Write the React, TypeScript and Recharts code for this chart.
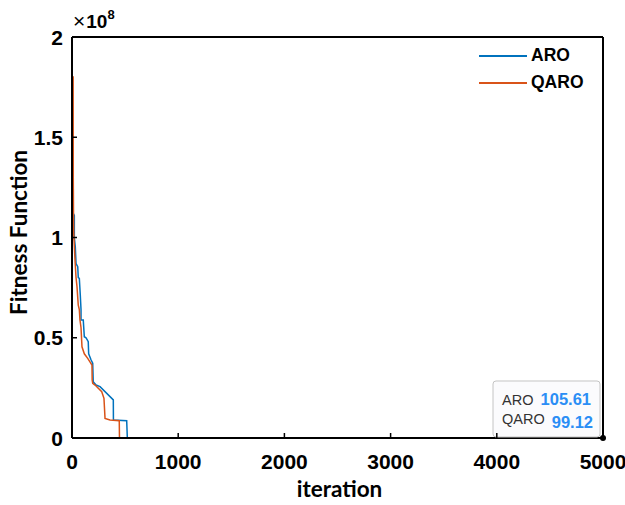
import React from "react";
import { LineChart, Line, XAxis, YAxis, Legend, ReferenceDot } from "recharts";

const ITER_TICKS = [0, 1000, 2000, 3000, 4000, 5000];
const FIT_TICKS = [0, 0.5e8, 1e8, 1.5e8, 2e8];

const SERIES = ["ARO", "QARO"];
const COLORS = ["#0072BD", "#D95319"];

// breakpoints of the convergence curves
const ARO_ITER = [
  0, 12, 12, 22, 22, 31, 38, 54, 59, 69, 78, 85, 85, 106, 116, 132, 153, 157,
  179, 195, 200, 226, 264, 389, 390, 515, 521, 5000,
];
const ARO_FIT = [
  1.25e8, 1.25e8, 1.12e8, 1.11e8, 1.0e8, 0.954e8, 0.87e8, 0.854e8, 0.8e8,
  0.796e8, 0.713e8, 0.64e8, 0.589e8, 0.589e8, 0.505e8, 0.5e8, 0.48e8, 0.42e8,
  0.39e8, 0.373e8, 0.28e8, 0.264e8, 0.256e8, 0.19e8, 0.09e8, 0.086e8, 120,
  105.61,
];

const QARO_ITER = [
  0, 11, 12, 14, 16, 18, 28, 38, 47, 59, 69, 75, 85, 94, 116, 148, 169, 188,
  190, 195, 217, 280, 301, 311, 358, 445, 447, 5000,
];
const QARO_FIT = [
  1.8e8, 1.8e8, 1.3e8, 1.12e8, 1.03e8, 1.0e8, 0.89e8, 0.8e8, 0.755e8, 0.663e8,
  0.64e8, 0.589e8, 0.55e8, 0.455e8, 0.42e8, 0.397e8, 0.38e8, 0.364e8, 0.29e8,
  0.273e8, 0.264e8, 0.231e8, 0.198e8, 0.098e8, 0.09e8, 0.086e8, 110, 99.12,
];

const aroData = ARO_ITER.map((iter, i) => ({ iter, fit: ARO_FIT[i] }));
const qaroData = QARO_ITER.map((iter, i) => ({ iter, fit: QARO_FIT[i] }));

const AXIS_FONT = '"Liberation Sans", Arial, Helvetica, sans-serif';
const TITLE_FONT = 'Lato, "Liberation Sans", Arial, sans-serif';
const TICK_LEN = 5;

const BottomTick = (props: any) => {
  const { x, y, payload } = props;
  return (
    <g>
      <line x1={x} y1={y} x2={x} y2={y - TICK_LEN} stroke="#000" strokeWidth={1.5} />
      <text
        x={x}
        y={y + 31}
        textAnchor="middle"
        fontSize={21}
        fontWeight="bold"
        fontFamily={AXIS_FONT}
        fill="#000"
      >
        {payload.value}
      </text>
    </g>
  );
};

const LeftTick = (props: any) => {
  const { x, y, payload } = props;
  return (
    <g>
      <line x1={x} y1={y} x2={x + TICK_LEN} y2={y} stroke="#000" strokeWidth={1.5} />
      <text
        x={x - 9}
        y={y + 7.5}
        textAnchor="end"
        fontSize={21}
        fontWeight="bold"
        fontFamily={AXIS_FONT}
        fill="#000"
      >
        {payload.value / 1e8}
      </text>
    </g>
  );
};

const TopTick = (props: any) => {
  const { x, y } = props;
  return <line x1={x} y1={y} x2={x} y2={y + TICK_LEN} stroke="#000" strokeWidth={1.5} />;
};

const RightTick = (props: any) => {
  const { x, y } = props;
  return <line x1={x} y1={y} x2={x - TICK_LEN} y2={y} stroke="#000" strokeWidth={1.5} />;
};

const YTitle = (props: any) => {
  const vb = props.viewBox;
  const cx = vb.x + 6;
  const cy = vb.y + vb.height / 2 - 5;
  return (
    <text
      x={cx}
      y={cy}
      transform={`rotate(-90, ${cx}, ${cy})`}
      textAnchor="middle"
      dominantBaseline="central"
      fontSize={22.5}
      fontWeight="bold"
      fontFamily={TITLE_FONT}
      fill="#000"
    >
      Fitness Function
    </text>
  );
};

const XTitle = (props: any) => {
  const vb = props.viewBox;
  return (
    <text
      x={vb.x + vb.width / 2 + 2}
      y={vb.y + 59}
      textAnchor="middle"
      fontSize={22.5}
      fontWeight="bold"
      fontFamily={TITLE_FONT}
      fill="#000"
    >
      iteration
    </text>
  );
};

// the "x10^8" exponent above the y axis
const Exponent = (props: any) => {
  const vb = props.viewBox;
  return (
    <text x={vb.x + 1} y={vb.y - 8} fontFamily={AXIS_FONT} fill="#000">
      <tspan fontSize={21}>×</tspan>
      <tspan fontSize={19} fontWeight="bold" dx={1}>
        10
      </tspan>
      <tspan fontSize={13} fontWeight="bold" dy={-9}>
        8
      </tspan>
    </text>
  );
};

const LegendBox = (props: any) => {
  const { payload } = props;
  return (
    <div style={{ display: "flex", flexDirection: "column" }}>
      {(payload || []).map((entry: any) => (
        <div
          key={entry.value}
          style={{ display: "flex", alignItems: "center", height: 27 }}
        >
          <svg width={48} height={4}>
            <line x1={0} y1={2} x2={48} y2={2} stroke={entry.color} strokeWidth={2} />
          </svg>
          <span
            style={{
              marginLeft: 4,
              fontSize: 17.5,
              fontWeight: "bold",
              fontFamily: AXIS_FONT,
              color: "#000",
            }}
          >
            {entry.value}
          </span>
        </div>
      ))}
    </div>
  );
};

const fmt = (v: number) => v.toFixed(2);

const DataTip = (props: any) => {
  const { cx, cy } = props;
  const aroLast = ARO_FIT[ARO_FIT.length - 1];
  const qaroLast = QARO_FIT[QARO_FIT.length - 1];
  return (
    <g fontFamily={AXIS_FONT}>
      <rect
        x={cx - 110}
        y={cy - 57}
        width={107}
        height={56}
        rx={3}
        fill="#fbfbfd"
        fillOpacity={0.95}
        stroke="#c4c4c4"
      />
      <text x={cx - 101} y={cy - 33} fontSize={14.5} fill="#333">
        {SERIES[0]}
      </text>
      <text
        x={cx - 12}
        y={cy - 33}
        textAnchor="end"
        fontSize={16.5}
        fontWeight="bold"
        fill="#2b8ef5"
      >
        {fmt(aroLast)}
      </text>
      <text x={cx - 101} y={cy - 14} fontSize={14.5} fill="#333">
        {SERIES[1]}
      </text>
      <text
        x={cx - 10}
        y={cy - 10}
        textAnchor="end"
        fontSize={16.5}
        fontWeight="bold"
        fill="#2b8ef5"
      >
        {fmt(qaroLast)}
      </text>
      <circle cx={cx} cy={cy} r={3} fill="#000" />
    </g>
  );
};

const App = () => {
  return (
    <div
      style={{
        position: "absolute",
        left: 0,
        top: 0,
        width: 625,
        height: 505,
        background: "#fff",
        fontFamily: AXIS_FONT,
      }}
    >
      <LineChart
        width={625}
        height={505}
        margin={{ top: 36, right: 21, left: 12, bottom: 7 }}
      >
        <XAxis
          dataKey="iter"
          type="number"
          domain={[0, 5000]}
          ticks={ITER_TICKS}
          interval={0}
          height={60}
          tickSize={0}
          tickMargin={0}
          tickLine={false}
          tick={<BottomTick />}
          axisLine={{ stroke: "#000", strokeWidth: 2 }}
          label={<XTitle />}
        />
        <XAxis
          xAxisId="top"
          orientation="top"
          dataKey="iter"
          type="number"
          domain={[0, 5000]}
          ticks={ITER_TICKS}
          interval={0}
          height={1}
          tickSize={0}
          tickMargin={0}
          tickLine={false}
          tick={<TopTick />}
          axisLine={{ stroke: "#000", strokeWidth: 2 }}
          label={<Exponent />}
        />
        <YAxis
          type="number"
          domain={[0, 2e8]}
          ticks={FIT_TICKS}
          interval={0}
          width={60}
          tickSize={0}
          tickMargin={0}
          tickLine={false}
          tick={<LeftTick />}
          axisLine={{ stroke: "#000", strokeWidth: 2 }}
          label={<YTitle />}
        />
        <YAxis
          yAxisId="right"
          orientation="right"
          type="number"
          domain={[0, 2e8]}
          ticks={FIT_TICKS}
          interval={0}
          width={1}
          tickSize={0}
          tickMargin={0}
          tickLine={false}
          tick={<RightTick />}
          axisLine={{ stroke: "#000", strokeWidth: 2 }}
        />
        <Legend
          layout="vertical"
          align="center"
          verticalAlign="middle"
          content={<LegendBox />}
          wrapperStyle={{ left: 479, top: 42, width: 130, height: 60 }}
        />
        <Line
          data={aroData}
          dataKey="fit"
          name={SERIES[0]}
          type="linear"
          stroke={COLORS[0]}
          strokeWidth={1.5}
          dot={false}
          isAnimationActive={false}
        />
        <Line
          data={qaroData}
          dataKey="fit"
          name={SERIES[1]}
          type="linear"
          stroke={COLORS[1]}
          strokeWidth={1.5}
          dot={false}
          isAnimationActive={false}
        />
        <ReferenceDot
          x={ARO_ITER[ARO_ITER.length - 1]}
          y={ARO_FIT[ARO_FIT.length - 1]}
          r={3}
          shape={<DataTip />}
        />
      </LineChart>
    </div>
  );
};

export default App;
